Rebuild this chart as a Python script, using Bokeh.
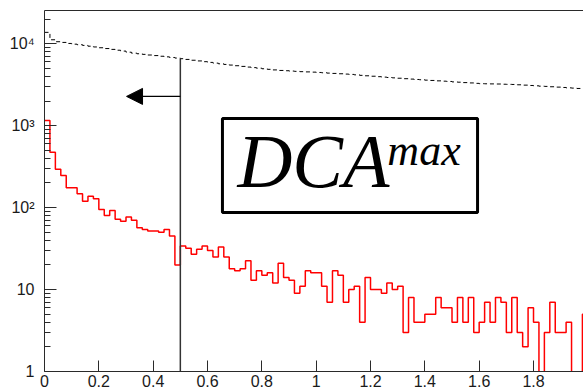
import numpy as np
from bokeh.plotting import figure
from bokeh.models import (Range1d, FixedTicker, CustomJSTickFormatter, Label,
                          Arrow, NormalHead, LinearAxis)
from bokeh.embed import file_html
from bokeh.resources import INLINE

# ---------------- data ----------------
bin_width = 0.02
n_bins = 100

signal = [1160, 476, 295, 247, 175, 175, 148, 120, 138, 128,
          95, 80, 92, 72, 68, 77, 70, 57, 54, 52,
          52, 50, 54, 45, 20, 34, 32, 27, 31, 34,
          30, 25, 33, 25, 18, 17, 18, 22.5, 13, 17,
          15, 16, 12, 21, 14, 13, 9, 11, 17, 16,
          16, 11, 7, 17, 15, 7, 10, 11, 4, 14,
          10, 10, 9, 12, 10, 11, 3, 8, 4, 4,
          5, 5, 8, 6, 6, 4, 8, 4, 8, 3,
          4, 7, 4, 8, 7, 3, 8, 3, 2, 6,
          4, 0, 3, 7, 3, 3, 4, 0, 0, 5]

background = [13800, 11200, 10600, 10400, 10100, 9900, 9750, 9560, 9350, 9150,
              8950, 8750, 8550, 8350, 8150, 7900, 7690, 7560, 7430, 7300,
              7180, 7050, 6930, 6810, 6700, 6580, 6450, 6300, 6180, 6050,
              5930, 5810, 5700, 5600, 5500, 5400, 5300, 5200, 5120, 5040,
              4960, 4880, 4800, 4730, 4690, 4650, 4610, 4570, 4540, 4510,
              4470, 4430, 4390, 4350, 4310, 4270, 4230, 4180, 4120, 4070,
              4020, 3970, 3920, 3880, 3840, 3800, 3750, 3710, 3670, 3640,
              3600, 3570, 3530, 3500, 3470, 3430, 3400, 3360, 3330, 3290,
              3260, 3250, 3240, 3230, 3210, 3200, 3190, 3160, 3130, 3100,
              3070, 3040, 3020, 2990, 2960, 2930, 2900, 2880, 2850, 2830]

cut_value = 0.5
arrow_tip = 0.302
arrow_level = 2280
x_ticks = [0, 0.2, 0.4, 0.6, 0.8, 1.0, 1.2, 1.4, 1.6, 1.8, 2.0]
y_ticks = [1, 10, 100, 1000, 10000]
label_main = "DCA"
label_sup = "max"

# ---------------- helpers ----------------
edges = np.arange(n_bins + 1) * bin_width


def stairs(vals, floor=0.3):
    v = np.asarray(vals, dtype=float)
    v = np.where(v > 0, v, floor)
    return edges, np.append(v, v[-1])


# ---------------- figure ----------------
p = figure(width=583, height=392, output_backend="svg", toolbar_location=None,
           x_range=Range1d(0, 1.984), y_range=Range1d(1, 25500),
           y_axis_type="log", min_border_left=44, min_border_right=0,
           min_border_top=10, min_border_bottom=21)
p.xgrid.visible = False
p.ygrid.visible = False
p.outline_line_color = None
p.background_fill_color = "white"
p.border_fill_color = "white"

axis_col = "#2a2a2a"
lab_font = "Liberation Sans"

# x axis
p.xaxis.ticker = FixedTicker(ticks=x_ticks)
p.xaxis.formatter = CustomJSTickFormatter(code="return Number(tick.toFixed(2)).toString();")
p.xaxis.major_tick_in = 11
p.xaxis.major_tick_out = 0
p.xaxis.minor_tick_in = 0
p.xaxis.minor_tick_out = 0
p.xaxis.axis_line_color = axis_col
p.xaxis.major_tick_line_color = axis_col
p.xaxis.major_label_text_font = lab_font
p.xaxis.major_label_text_font_size = "16px"
p.xaxis.major_label_text_color = "#1a1a1a"
p.xaxis.major_label_standoff = 3

# y axis
minor = [k * 10 ** d for d in range(0, 5) for k in range(2, 10)]
p.yaxis.ticker = FixedTicker(ticks=y_ticks, minor_ticks=minor)
p.yaxis.formatter = CustomJSTickFormatter(code="""
const e = Math.round(Math.log10(tick));
if (e == 0) return "1";
if (e == 1) return "10";
const sup = {2: "\u00b2", 3: "\u00b3", 4: "\u2074", 5: "\u2075"};
return "10" + sup[e];
""")
p.yaxis.major_tick_in = 12
p.yaxis.major_tick_out = 0
p.yaxis.minor_tick_in = 6
p.yaxis.minor_tick_out = 0
p.yaxis.axis_line_color = axis_col
p.yaxis.major_tick_line_color = axis_col
p.yaxis.minor_tick_line_color = axis_col
p.yaxis.major_label_text_font = lab_font
p.yaxis.major_label_text_font_size = "16px"
p.yaxis.major_label_text_color = "#1a1a1a"
p.yaxis.major_label_standoff = 10

# top frame line
top = LinearAxis(ticker=FixedTicker(ticks=[]), major_tick_in=0, major_tick_out=0,
                 minor_tick_in=0, minor_tick_out=0, axis_line_color=axis_col,
                 major_label_text_font_size="0px")
p.add_layout(top, "above")

# histograms
bx, by = stairs(background)
p.step(bx, by, mode="after", line_color="black", line_width=1, line_dash="4 3")
sx, sy = stairs(signal)
p.step(sx, sy, mode="after", line_color="#ff0000", line_width=1.5)

# cut line + arrow
cut_bin = int(round(cut_value / bin_width))
p.segment(x0=[cut_value], y0=[1], x1=[cut_value], y1=[background[cut_bin]],
          line_color="#333333", line_width=1.5)
p.add_layout(Arrow(end=NormalHead(size=16, fill_color="black", line_color="black"),
                   x_start=cut_value, y_start=arrow_level, x_end=arrow_tip, y_end=arrow_level,
                   line_color="black", line_width=1.2))

# label box
p.quad(left=[0.655], right=[1.594], bottom=[87.4], top=[1228],
       fill_color="white", line_color="black", line_width=3)
p.add_layout(Label(x=0.71, y=366, text=label_main, text_font="Liberation Serif",
                   text_font_style="italic", text_font_size="76px",
                   text_baseline="alphabetic", text_color="black"))
p.add_layout(Label(x=1.262, y=499, text=label_sup, text_font="Liberation Serif",
                   text_font_style="italic", text_font_size="44px",
                   text_baseline="alphabetic", text_color="black"))

open("out.html", "w").write(file_html(p, INLINE))
